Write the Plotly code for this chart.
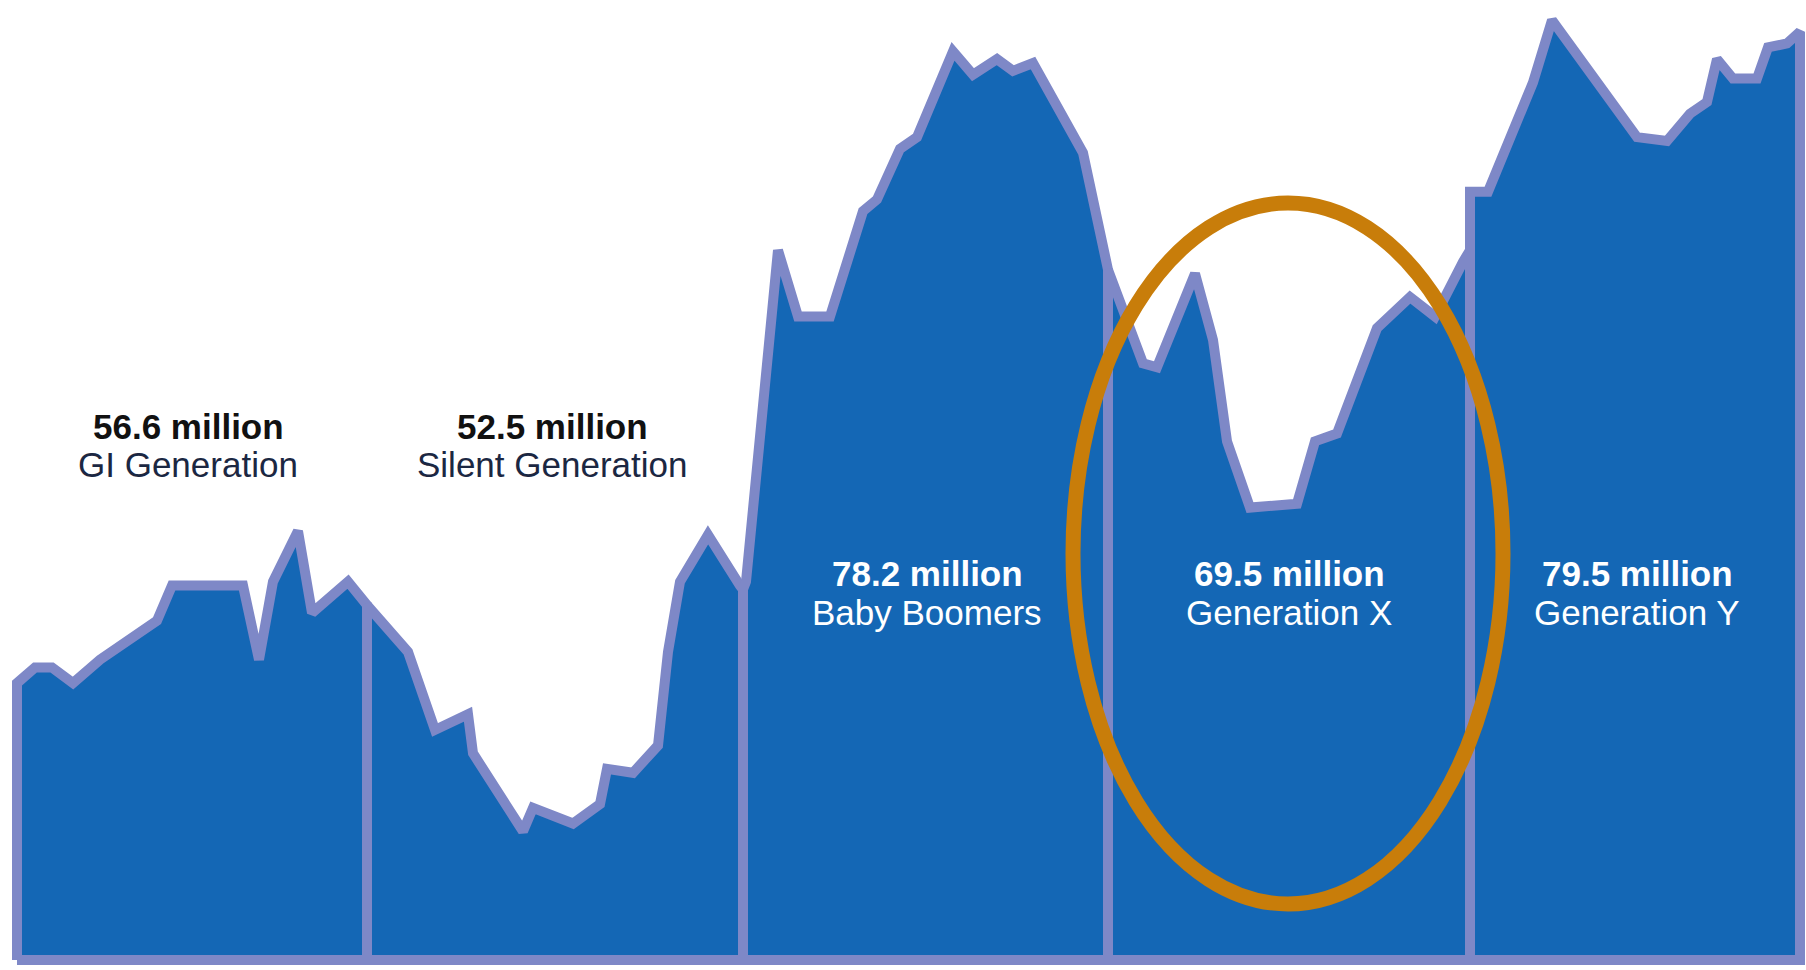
import plotly.graph_objects as go

# ---- data (x = horizontal position along the chart, y = births in millions) ----
generations = ["GI Generation", "Silent Generation", "Baby Boomers", "Generation X", "Generation Y"]
totals = ["56.6 million", "52.5 million", "78.2 million", "69.5 million", "79.5 million"]

gi_x = [17, 35, 52, 73, 100, 157, 172, 243, 259, 273, 298, 312, 348, 367]
gi_y = [2.71, 2.75, 2.75, 2.71, 2.77, 2.87, 2.96, 2.96, 2.77, 2.97, 3.10, 2.89, 2.97, 2.91]

silent_x = [367, 408, 435, 468, 473, 523, 533, 573, 600, 607, 633, 658, 668, 680, 708, 740, 743]
silent_y = [2.91, 2.79, 2.59, 2.63, 2.53, 2.33, 2.39, 2.35, 2.40, 2.49, 2.48, 2.55, 2.79, 2.97, 3.09, 2.96, 2.95]

boomer_x = [743, 746, 778, 798, 830, 863, 877, 900, 917, 953, 973, 997, 1013, 1033, 1083, 1108]
boomer_y = [2.95, 2.97, 3.82, 3.65, 3.65, 3.92, 3.95, 4.08, 4.11, 4.33, 4.27, 4.31, 4.28, 4.30, 4.07, 3.77]

genx_x = [1108, 1143, 1157, 1195, 1213, 1227, 1250, 1297, 1315, 1337, 1377, 1410, 1435, 1463, 1470]
genx_y = [3.77, 3.53, 3.52, 3.76, 3.59, 3.33, 3.16, 3.17, 3.33, 3.35, 3.62, 3.70, 3.65, 3.79, 3.82]

geny_x = [1470, 1488, 1513, 1533, 1552, 1637, 1667, 1690, 1707, 1717, 1733, 1757, 1768, 1787, 1800]
geny_y = [3.97, 3.97, 4.12, 4.25, 4.41, 4.11, 4.10, 4.17, 4.20, 4.31, 4.26, 4.26, 4.34, 4.35, 4.38]

series = [(gi_x, gi_y), (silent_x, silent_y), (boomer_x, boomer_y), (genx_x, genx_y), (geny_x, geny_y)]

BASE = 2.0
W, H = 1806, 970
PX_PER_M = 390.0
y_top = BASE + 960 / PX_PER_M
y_bottom = BASE - 10 / PX_PER_M

FILL = "#1467B5"
EDGE = "#7E88C7"

fig = go.Figure()
for xs, ys in series:
    px = [xs[0]] + list(xs) + [xs[-1], xs[0]]
    py = [BASE] + list(ys) + [BASE, BASE]
    fig.add_trace(go.Scatter(
        x=px, y=py, mode="lines", fill="toself", fillcolor=FILL,
        line=dict(color=EDGE, width=10), hoverinfo="skip", showlegend=False,
    ))

# ellipse highlighting Generation X
def px2paper_x(v):
    return v / W

def px2paper_y(v):
    return (H - v) / H

fig.add_shape(type="circle", xref="paper", yref="paper",
              x0=px2paper_x(1073), x1=px2paper_x(1503),
              y0=px2paper_y(904), y1=px2paper_y(203),
              line=dict(color="#C87D0A", width=15))

label_x = [188, 552, 927, 1289, 1637]
label_top = [426, 426, 573, 573, 573]
for i, (g, t) in enumerate(zip(generations, totals)):
    dark = i < 2
    fig.add_annotation(x=px2paper_x(label_x[i]), y=px2paper_y(label_top[i]), xref="paper", yref="paper",
                       text="<b>" + t + "</b>", showarrow=False, xanchor="center", yanchor="middle",
                       font=dict(family="Liberation Sans, Arial, sans-serif", size=35,
                                 color="#111111" if dark else "#FFFFFF"))
    fig.add_annotation(x=px2paper_x(label_x[i]), y=px2paper_y(label_top[i] + 39), xref="paper", yref="paper",
                       text=g, showarrow=False, xanchor="center", yanchor="middle",
                       font=dict(family="Liberation Sans, Arial, sans-serif", size=35,
                                 color="#1B2742" if dark else "#FFFFFF"))

fig.update_xaxes(range=[0, W], visible=False, fixedrange=True)
fig.update_yaxes(range=[y_bottom, y_top], visible=False, fixedrange=True)
fig.update_layout(width=W, height=H, margin=dict(l=0, r=0, t=0, b=0),
                  paper_bgcolor="white", plot_bgcolor="white")

fig.write_html("out.html", config={"displayModeBar": False})
